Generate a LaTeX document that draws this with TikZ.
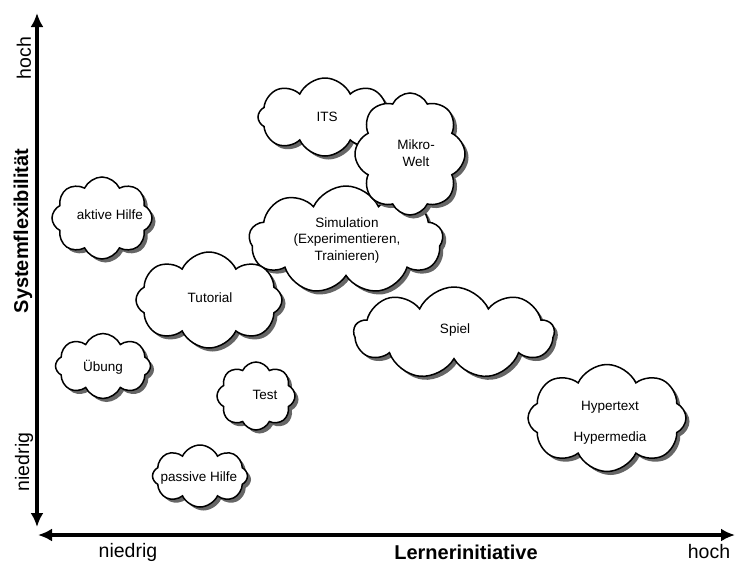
\documentclass[tikz,border=0pt]{standalone}
\usepackage{fontspec}
\setmainfont{Liberation Sans}
\usetikzlibrary{shapes.symbols,shadows,arrows.meta}

\tikzset{
  puff/.style={cloud, cloud puffs=#1, cloud puff arc=130, cloud ignores aspect,
    draw=black, line width=1.5pt, fill=white, inner sep=0pt,
    drop shadow={shadow xshift=3.5pt, shadow yshift=-3.5pt, fill=black!60, opacity=1}},
  puff/.default=8,
  cloudtext/.style={font=\fontsize{13.5}{16.5}\selectfont, align=center, inner sep=0pt},
  axis/.style={line width=4pt, {Latex[length=14pt,width=13pt]}-{Latex[length=14pt,width=13pt]}},
  axislabel/.style={font=\fontsize{19.5}{22}\selectfont, inner sep=0pt},
  axistitle/.style={font=\bfseries\fontsize{20}{22}\selectfont, inner sep=0pt}
}

\begin{document}
\begin{tikzpicture}[x=1pt, y=-1pt]
  \useasboundingbox[fill=white] (0,0) rectangle (735,563);

  % clouds, back to front
  \node[puff=8, minimum width=134, minimum height=78] (its) at (325,117) {};
  \node[puff=9, minimum width=194, minimum height=108] (sim) at (346,240) {};
  \node[puff=8, minimum width=110, minimum height=122] (mikro) at (410,154) {};
  \node[puff=9, minimum width=200, minimum height=92] (spiel) at (454,333) {};
  \node[puff=8, minimum width=100, minimum height=82] (aktiv) at (102,218) {};
  \node[puff=8, minimum width=146, minimum height=96] (tut) at (209,300) {};
  \node[puff=8, minimum width=95, minimum height=65] (uebung) at (103,366) {};
  \node[puff=8, minimum width=78, minimum height=68] (test) at (256,396) {};
  \node[puff=8, minimum width=95, minimum height=62] (passiv) at (200,476) {};
  \node[puff=8, minimum width=158, minimum height=107] (hyper) at (607,418) {};

  % cloud captions
  \node[cloudtext] (itsT) at (327,117) {ITS};
  \node[cloudtext] (mikroT) at (416,153) {Mikro-\\Welt};
  \node[cloudtext, text depth=0pt] (simT) at (347,239) {Simulation\\(Experimentieren,\\Trainieren)};
  \node[cloudtext] (spielT) at (455,330) {Spiel};
  \node[cloudtext] (aktivT) at (110,215) {aktive Hilfe};
  \node[cloudtext] (tutT) at (210,298) {Tutorial};
  \node[cloudtext] (uebungT) at (103,367) {Übung};
  \node[cloudtext] (testT) at (265,395) {Test};
  \node[cloudtext] (passivT) at (199,478) {passive Hilfe};
  \node[cloudtext] (hyperT) at (610,407) {Hypertext};
  \node[cloudtext] (mediaT) at (610,438) {Hypermedia};

  % axes
  \coordinate (yLow) at (37,527);
  \coordinate (yHigh) at (37,13);
  \coordinate (xLow) at (38,535);
  \coordinate (xHigh) at (735,535);
  \draw[axis] (yLow) -- (yHigh);
  \draw[axis] (xLow) -- (xHigh);

  % axis labels
  \node[axislabel, rotate=90] (yhoch) at (24,58) {hoch};
  \node[axistitle, rotate=90] (ytitle) at (23,231) {Systemflexibilität};
  \node[axislabel, rotate=90] (yniedrig) at (24,462) {niedrig};
  \node[axislabel] (xniedrig) at (128,552) {niedrig};
  \node[axistitle] (xtitle) at (466,552) {Lernerinitiative};
  \node[axislabel] (xhoch) at (709,552) {hoch};
\end{tikzpicture}
\end{document}
